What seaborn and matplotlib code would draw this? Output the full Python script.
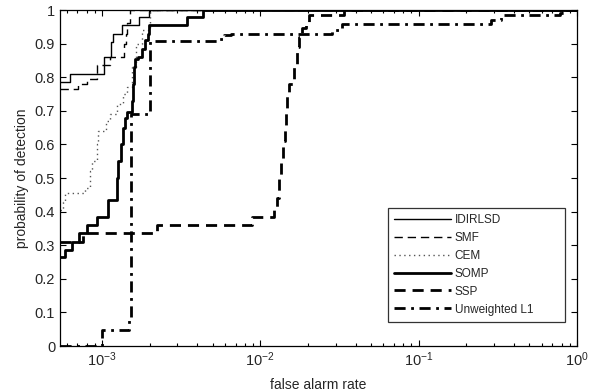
import matplotlib
matplotlib.use("Agg")
import matplotlib.pyplot as plt
import seaborn as sns
from matplotlib.ticker import LogLocator, NullFormatter

# ---- data (false alarm rate, probability of detection) ----
idirlsd_x = [5.44e-4, 6.29e-4, 1.03e-3, 1.14e-3, 1.17e-3, 1.34e-3, 1.71e-3, 1.98e-3, 1.0]
idirlsd_y = [0.785, 0.81, 0.86, 0.905, 0.93, 0.955, 0.98, 1.0, 1.0]

smf_x = [5.44e-4, 7.06e-4, 8.05e-4, 9.31e-4, 1.12e-3, 1.38e-3, 1.42e-3, 1.44e-3, 1.50e-3, 1.0]
smf_y = [0.765, 0.78, 0.795, 0.835, 0.86, 0.90, 0.93, 0.96, 1.0, 1.0]

cem_x = [5.44e-4, 5.70e-4, 5.85e-4, 7.60e-4, 7.82e-4, 8.40e-4, 8.65e-4, 9.31e-4, 9.50e-4,
         1.06e-3, 1.12e-3, 1.24e-3, 1.36e-3, 1.44e-3, 1.54e-3, 1.65e-3, 1.79e-3, 2.00e-3, 1.0]
cem_y = [0.405, 0.43, 0.455, 0.455, 0.47, 0.52, 0.55, 0.60, 0.64,
         0.67, 0.69, 0.72, 0.75, 0.77, 0.83, 0.90, 0.94, 1.0, 1.0]

somp_x = [5.44e-4, 5.85e-4, 6.48e-4, 7.16e-4, 8.05e-4, 9.31e-4, 1.09e-3, 1.24e-3, 1.26e-3,
          1.32e-3, 1.36e-3, 1.40e-3, 1.44e-3, 1.54e-3, 1.57e-3, 1.59e-3, 1.61e-3, 1.68e-3,
          1.79e-3, 1.86e-3, 1.95e-3, 1.98e-3, 3.47e-3, 4.32e-3, 1.0]
somp_y = [0.265, 0.285, 0.31, 0.335, 0.36, 0.385, 0.435, 0.50, 0.55,
          0.60, 0.65, 0.68, 0.695, 0.73, 0.78, 0.83, 0.855, 0.86,
          0.885, 0.91, 0.93, 0.955, 0.98, 1.0, 1.0]

ssp_x = [5.44e-4, 7.60e-4, 2.22e-3, 8.91e-3, 1.225e-2, 1.28e-2, 1.32e-2, 1.35e-2, 1.40e-2,
         1.44e-2, 1.46e-2, 1.48e-2, 1.52e-2, 1.64e-2, 1.71e-2, 1.76e-2, 1.84e-2, 1.95e-2,
         2.03e-2, 3.38e-2, 1.0]
ssp_y = [0.31, 0.335, 0.36, 0.385, 0.41, 0.44, 0.50, 0.55, 0.61,
         0.65, 0.70, 0.75, 0.78, 0.84, 0.89, 0.92, 0.945, 0.958,
         0.985, 1.0, 1.0]

l1_x = [5.44e-4, 1.0e-3, 1.48e-3, 1.52e-3, 2.0e-3, 5.37e-3, 5.9e-3, 6.57e-3, 2.84e-2,
        3.28e-2, 0.288, 0.333, 0.782, 0.84, 1.0]
l1_y = [0.0, 0.048, 0.077, 0.69, 0.908, 0.915, 0.925, 0.93, 0.94,
        0.958, 0.97, 0.985, 0.99, 1.0, 1.0]

labels = ["IDIRLSD", "SMF", "CEM", "SOMP", "SSP", "Unweighted L1"]
ytick_vals = [0, 0.1, 0.2, 0.3, 0.4, 0.5, 0.6, 0.7, 0.8, 0.9, 1.0]
ytick_labels = ["0", "0.1", "0.2", "0.3", "0.4", "0.5", "0.6", "0.7", "0.8", "0.9", "1"]

sns.set_style("ticks")
plt.rcParams["font.family"] = ["Liberation Sans", "DejaVu Sans"]
plt.rcParams["mathtext.default"] = "regular"
plt.rcParams["xtick.direction"] = "in"
plt.rcParams["ytick.direction"] = "in"

fig = plt.figure(figsize=(5.9, 3.91), dpi=100)
ax = fig.add_axes([60 / 590, 45 / 391, 517 / 590, 336 / 391])

series = [
    (idirlsd_x, idirlsd_y, dict(lw=1.0, linestyle="-")),
    (smf_x, smf_y, dict(lw=1.0, linestyle=(0, (6, 3.5)))),
    (cem_x, cem_y, dict(lw=1.0, linestyle=(0, (1, 2.5)), color="#555555")),
    (somp_x, somp_y, dict(lw=2.0, linestyle="-")),
    (ssp_x, ssp_y, dict(lw=2.0, linestyle=(0, (4, 2.5)))),
    (l1_x, l1_y, dict(lw=2.0, linestyle=(0, (4, 2, 1, 2)))),
]
for (xs, ys, kw), lab in zip(series, labels):
    color = kw.pop("color", "black")
    sns.lineplot(x=xs, y=ys, ax=ax, estimator=None, sort=False,
                 drawstyle="steps-post", color=color, label=lab, **kw)

ax.set_xscale("log")
ax.set_xlim(5.44e-4, 1.0)
ax.set_ylim(0, 1)
ax.set_yticks(ytick_vals)
ax.set_yticklabels(ytick_labels)
ax.xaxis.set_major_locator(LogLocator(base=10, numticks=10))
ax.xaxis.set_minor_locator(LogLocator(base=10, subs=range(2, 10), numticks=20))
ax.xaxis.set_minor_formatter(NullFormatter())
ax.tick_params(which="both", top=True, right=True, direction="in", labelsize=10.5, color="black")
ax.tick_params(which="major", length=4, width=0.8)
ax.tick_params(which="minor", length=2.5, width=0.8)
for s in ax.spines.values():
    s.set_color("black")
    s.set_linewidth(0.9)

ax.set_xlabel("false alarm rate", fontsize=10, labelpad=6)
ax.set_ylabel("probability of detection", fontsize=10, labelpad=4)

# legend box spans about x 388-565 px, bottom at y 322 px
leg = ax.legend(loc="lower left", bbox_to_anchor=(328 / 517, 24 / 336, 177 / 517, 0.3),
                mode="expand", fontsize=8.5, frameon=True, fancybox=False,
                edgecolor="black", handlelength=4.8, handletextpad=0.3,
                borderpad=0.55, labelspacing=0.5, borderaxespad=0)
leg.get_frame().set_linewidth(0.9)

fig.savefig("out.png", dpi=100)
